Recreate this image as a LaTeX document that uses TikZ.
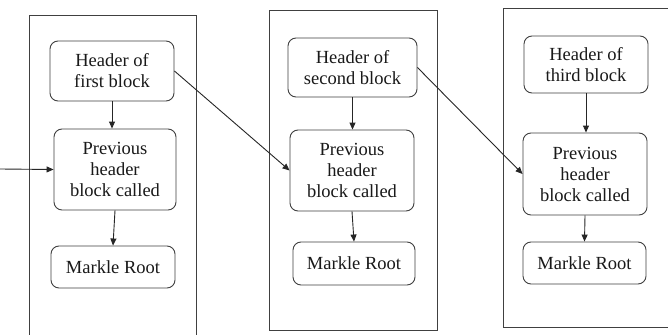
\documentclass[tikz,border=0pt]{standalone}
\usepackage{fontspec}
\setmainfont{Liberation Serif}
\usetikzlibrary{arrows.meta}
\begin{document}
\begin{tikzpicture}[x=1pt,y=-1pt,
  frame/.style={draw=black!75,line width=0.9pt},
  stage/.style={draw=black!75,line width=0.9pt,rounded corners=8pt,align=center,
    inner sep=0pt,font=\fontsize{18.5}{21}\selectfont,text=black!90},
  link/.style={draw=black!85,line width=0.9pt,-{Triangle[length=7pt,width=6pt]}}]
\clip (0,0) rectangle (668,334);
\fill[white] (0,0) rectangle (668,334);
% outer block frames
\draw[frame] (29,15) rectangle (196,345);
\draw[frame] (269,10) rectangle (437,330);
\draw[frame] (503,8) rectangle (690,327);
% first block
\node[stage,minimum width=124pt,minimum height=60pt] (h1) at (112,71) {Header of\\first block};
\node[stage,minimum width=122pt,minimum height=81pt] (p1) at (115,169.5) {Previous\\header\\block called};
\node[stage,minimum width=124pt,minimum height=42pt] (m1) at (113,267) {Markle Root};
% second block
\node[stage,minimum width=129pt,minimum height=59pt] (h2) at (352.5,67.5) {Header of\\second block};
\node[stage,minimum width=124pt,minimum height=81pt] (p2) at (352,170.5) {Previous\\header\\block called};
\node[stage,minimum width=122pt,minimum height=43pt] (m2) at (354,263.5) {Markle Root};
% third block
\node[stage,minimum width=124pt,minimum height=57pt] (h3) at (586,64.5) {Header of\\third block};
\node[stage,minimum width=124pt,minimum height=82pt] (p3) at (585,174) {Previous\\header\\block called};
\node[stage,minimum width=123pt,minimum height=42pt] (m3) at (584.5,263) {Markle Root};
% connectors
\coordinate (in) at (0,169);
\draw[link] (in) -- (p1.west);
\draw[link] (h1.south) -- (h1.south |- p1.north);
\draw[link] (p1.south) -- (m1.north);
\draw[link] (h2.south) -- (h2.south |- p2.north);
\draw[link] (p2.south) -- (m2.north);
\draw[link] (h3.south) -- (h3.south |- p3.north);
\draw[link] (p3.south) -- (m3.north);
\draw[link] (h1.east) -- (p2.west);
\draw[link] (h2.east) -- (p3.west);
\end{tikzpicture}
\end{document}
